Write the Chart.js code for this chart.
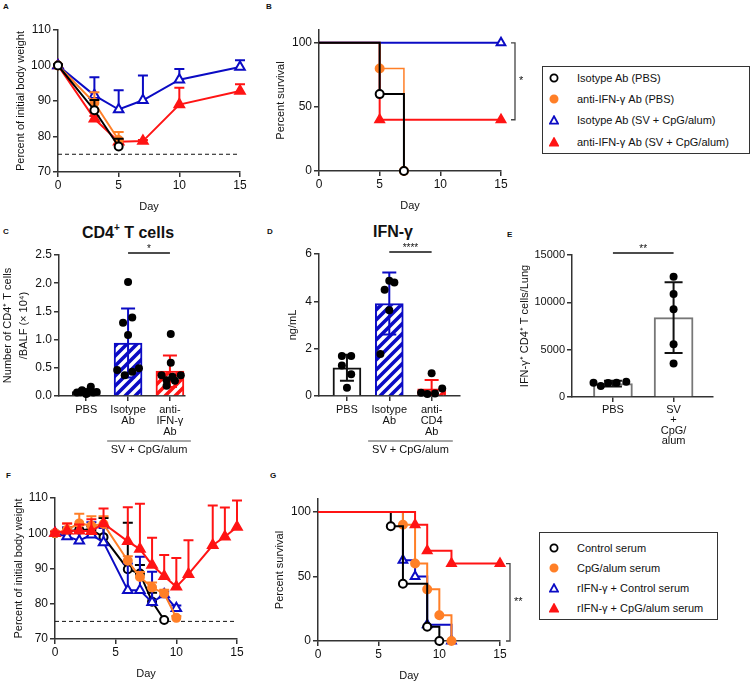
<!DOCTYPE html>
<html>
<head>
<meta charset="utf-8">
<script src="https://cdn.jsdelivr.net/npm/chart.js@4.4.1/dist/chart.umd.min.js"></script>
<style>
  body { margin: 0; background: #fff; }
  #fig { position: relative; width: 750px; height: 682px; overflow: hidden; background: #fff;
         font-family: "Liberation Sans", Arial, sans-serif; color: #111; }
  canvas { position: absolute; }
  .lt { position: absolute; font-weight: bold; font-size: 8px; line-height: 1; }
  .ttl { position: absolute; font-weight: bold; font-size: 16px; white-space: nowrap; transform: translate(-50%, -50%); }
  .ttl sup { font-size: 10px; }
  .leg { position: absolute; border: 1.3px solid #333; background: #fff; font-size: 11px; }
  .leg .row { position: absolute; white-space: nowrap; transform: translateY(-50%); line-height: 1; }
  .leg svg { display: block; }
</style>
</head>
<body>
<div id="fig">
  <div class="lt" style="left:3px;top:3px">A</div>
  <div class="lt" style="left:266px;top:3px">B</div>
  <div class="lt" style="left:3px;top:228px">C</div>
  <div class="lt" style="left:267px;top:228px">D</div>
  <div class="lt" style="left:507px;top:231px">E</div>
  <div class="lt" style="left:6px;top:472px">F</div>
  <div class="lt" style="left:270px;top:472px">G</div>
  <div class="ttl" style="left:128px;top:232px">CD4<sup>+</sup> T cells</div>
  <div class="ttl" style="left:393px;top:232px">IFN-γ</div>
  <div class="leg" id="legB" style="left:542px;top:66px;width:206px;height:86px"></div>
  <div class="leg" id="legG" style="left:539px;top:532px;width:177px;height:86px"></div>
  <canvas id="cA"></canvas>
  <canvas id="cB"></canvas>
  <canvas id="cC"></canvas>
  <canvas id="cD"></canvas>
  <canvas id="cE"></canvas>
  <canvas id="cF"></canvas>
  <canvas id="cG"></canvas>
</div>
<script>
// ---------- data ----------
// A: body weight after antibody treatment
const aDaysPBS = [0, 3, 5];
const aIsoPBS = [100, 87.4, 77.2];
const aIsoPBSsd = [0.3, 2.9, 2.2];
const aAntiPBS = [100, 89.5, 79.0];
const aAntiPBSsd = [0.3, 3.0, 2.3];
const aDaysSV = [0, 3, 5, 7, 10, 15];
const aIsoSV = [100, 91.6, 87.6, 90.2, 96.0, 99.6];
const aIsoSVsd = [0.3, 5.1, 5.4, 7.0, 3.0, 1.9];
const aAntiSV = [100, 85.0, 78.5, 78.7, 89.0, 92.8];
const aAntiSVsd = [0.3, 0.8, 0.6, 0.3, 4.7, 1.9];
const cutoffDays = [0, 15];
const cutoff = [75, 75];
const weightTicks = [70, 80, 90, 100, 110];
const dayTicks = [0, 5, 10, 15];

// B: survival
const bIsoPBSdays = [0, 5, 7];
const bIsoPBS = [100, 60, 0];
const bAntiPBSdays = [0, 5, 7];
const bAntiPBS = [100, 80, 0];
const bIsoSVdays = [0, 15];
const bIsoSV = [100, 100];
const bAntiSVdays = [0, 5, 15];
const bAntiSV = [100, 40, 40];
const survTicks = [0, 50, 100];

// C: CD4+ T cells in BALF (x 10^4)
const cCats = [['PBS'], ['Isotype', 'Ab'], ['anti-', 'IFN-γ', 'Ab']];
const cMeans = [0.077, 0.94, 0.44];
const cSD = [0.035, 0.61, 0.28];
const cDots = [
  [0.06, 0.065, 0.077, 0.047, 0.095, 0.06, 0.07, 0.165, 0.035, 0.10],
  [2.02, 1.30, 1.39, 1.08, 0.46, 0.37, 0.43, 0.49],
  [1.10, 0.59, 0.37, 0.28, 0.34, 0.37, 0.18, 0.27]
];
const cJitter = [
  [-0.22, -0.14, -0.06, 0.02, 0.08, 0.17, 0.25, 0.11, 0.0, -0.1],
  [0.0, -0.12, 0.10, 0.0, -0.26, -0.08, 0.10, 0.26],
  [0.02, 0.02, -0.2, -0.08, 0.06, 0.26, -0.08, 0.12]
];
const cTicks = [0, 0.5, 1.0, 1.5, 2.0, 2.5];

// D: IFN-gamma (ng/mL)
const dCats = [['PBS'], ['Isotype', 'Ab'], ['anti-', 'CD4', 'Ab']];
const dMeans = [1.19, 3.91, 0.30];
const dSD = [0.55, 1.31, 0.38];
const dDots = [
  [1.69, 1.69, 1.29, 0.92, 0.35],
  [4.87, 4.80, 4.49, 3.62, 1.77],
  [0.96, 0.14, 0.08, 0.11, 0.32]
];
const dJitter = [
  [-0.12, 0.10, -0.12, 0.10, 0.0],
  [0.0, 0.12, -0.11, 0.0, -0.21],
  [0.0, -0.25, -0.1, 0.08, 0.25]
];
const dTicks = [0, 2, 4, 6];

// E: IFN-gamma+ CD4+ T cells / lung
const eCats = [['PBS'], ['SV', '+', 'CpG/', 'alum']];
const eMeans = [1420, 8380];
const eSD = [300, 3740];
const eDots = [
  [1518, 1165, 1482, 1518, 1624],
  [12706, 10871, 9282, 5576, 3529]
];
const eJitter = [
  [-0.32, -0.2, -0.08, 0.06, 0.22],
  [0, 0, 0, 0, 0]
];
const eTicks = [0, 5000, 10000, 15000];

// F: body weight after serum transfer
const fDaysCtl = [0, 1, 2, 3, 4, 6, 7, 8, 9];
const fCtl = [100, 100.5, 101, 101, 98.9, 89.8, 88.6, 80.6, 75.4];
const fCtlSD = [0.3, 1.0, 1.5, 1.0, 5.4, 13.2, 2.4, 2.5, 0];
const fDaysCpG = [0, 1, 2, 3, 4, 6, 7, 8, 9, 10];
const fCpG = [100, 101, 102.8, 102.1, 102.6, 92.2, 87.6, 84.6, 82.9, 76.0];
const fCpGSD = [0.3, 1.8, 2.7, 2.7, 2.2, 1.3, 1.4, 1.4, 1.1, 0.5];
const fDaysIfnCtl = [0, 1, 2, 3, 4, 6, 7, 8, 9, 10];
const fIfnCtl = [100, 99.1, 97.9, 99.6, 97.4, 83.8, 83.8, 80.4, 82.6, 78.7];
const fIfnCtlSD = [0.3, 2.6, 2.6, 3.5, 4.1, 7.6, 9.5, 8.7, 0.9, 0.8];
const fDaysIfnCpG = [0, 1, 2, 3, 4, 6, 7, 8, 9, 10, 11, 13, 14, 15];
const fIfnCpG = [100, 100.7, 100.7, 100.6, 102.8, 97.7, 95.5, 91.0, 87.8, 84.8, 88.4, 96.6, 99.0, 101.8];
const fIfnCpGSD = [0.5, 2.1, 1.8, 3.4, 4.2, 9.7, 12.9, 7.7, 6.0, 8.2, 9.6, 11.3, 8.3, 7.5];

// G: survival after serum transfer
const gCtlDays = [0, 6, 7, 9, 10];
const gCtl = [100, 88.9, 44.4, 11.1, 0];
const gCpGDays = [0, 7, 8, 9, 10, 11];
const gCpG = [100, 90, 60, 40, 20, 0];
const gIfnCtlDays = [0, 7, 8, 9, 11];
const gIfnCtl = [100, 62.5, 50, 12.5, 0];
const gIfnCpGDays = [0, 8, 9, 11, 15];
const gIfnCpG = [100, 90, 70, 60, 60];

const legendB = ['Isotype Ab (PBS)', 'anti-IFN-γ Ab (PBS)', 'Isotype Ab (SV + CpG/alum)', 'anti-IFN-γ Ab (SV + CpG/alum)'];
const legendG = ['Control serum', 'CpG/alum serum', 'rIFN-γ + Control serum', 'rIFN-γ + CpG/alum serum'];

// ---------- style ----------
const BLACK = '#000000', ORANGE = '#ff7f27', BLUE = '#0b0bc4', RED = '#ff1414', AX = '#333333';
Chart.defaults.font.family = '"Liberation Sans", Arial, sans-serif';
Chart.defaults.font.size = 12;
Chart.defaults.color = '#111';
Chart.defaults.animation = false;
Chart.defaults.events = [];
Chart.defaults.plugins.legend.display = false;
Chart.defaults.plugins.tooltip.enabled = false;

const pts = (xs, ys) => xs.map((x, i) => ({x: x, y: ys[i]}));

function mount(id, area, lay) {
  const c = document.getElementById(id);
  c.width = area.r - area.l + lay.yW + lay.pr;
  c.height = area.b - area.t + lay.pt + lay.xH + (lay.pb || 0);
  c.style.left = (area.l - lay.yW) + 'px';
  c.style.top = (area.t - lay.pt) + 'px';
  return c;
}

function axis(o) {
  return {
    type: 'linear', min: o.min, max: o.max, offset: false,
    border: {display: true, color: AX, width: 1.5},
    grid: {display: true, drawOnChartArea: false, drawTicks: true, tickLength: 5, color: AX, lineWidth: 1.5, offset: false},
    ticks: {font: {size: o.fs || 12, lineHeight: o.lh || 1.2}, color: '#111', padding: o.pad || 2,
            maxRotation: 0, autoSkip: false, callback: o.fmt || (v => v)},
    title: {display: !!o.title, text: o.title, font: {size: 11, lineHeight: o.tlh || 1.2}, color: '#111', padding: 0},
    afterBuildTicks: s => { s.ticks = o.ticks.map(v => ({value: v})); },
    afterFit: s => { if (o.w) s.width = o.w; if (o.h) s.height = o.h; }
  };
}

function hatch(color) {
  const c = document.createElement('canvas');
  c.width = c.height = 10;
  const g = c.getContext('2d');
  g.fillStyle = '#fff';
  g.fillRect(0, 0, 10, 10);
  g.strokeStyle = color;
  g.lineWidth = 3.6;
  g.beginPath();
  g.moveTo(-2, 12); g.lineTo(12, -2);
  g.moveTo(-7, 7); g.lineTo(7, -7);
  g.moveTo(3, 17); g.lineTo(17, 3);
  g.stroke();
  return g.createPattern(c, 'repeat');
}

// error bars, significance marks and group labels
function drawErr(chart, i, when) {
  const ds = chart.data.datasets[i];
  if (!ds.err || ds.errWhen !== when) return;
  const meta = chart.getDatasetMeta(i), y = chart.scales.y, ctx = chart.ctx;
  ctx.save();
  ctx.lineWidth = ds.errWidth || 2;
  meta.data.forEach((el, k) => {
    const sd = ds.err[k];
    if (!sd) return;
    const v = ds.data[k].y;
    const col = Array.isArray(ds.errColor) ? ds.errColor[k] : ds.errColor;
    const top = y.getPixelForValue(v + sd);
    const low = Math.max(v - sd, y.min);
    const bot = ds.errBoth ? y.getPixelForValue(low) : el.y;
    const h = ds.capW / 2;
    ctx.strokeStyle = col;
    ctx.beginPath();
    ctx.moveTo(el.x, top); ctx.lineTo(el.x, bot);
    ctx.moveTo(el.x - h, top); ctx.lineTo(el.x + h, top);
    if (ds.errBoth && v - sd > y.min) { ctx.moveTo(el.x - h, bot); ctx.lineTo(el.x + h, bot); }
    ctx.stroke();
  });
  ctx.restore();
}

const extras = {
  id: 'extras',
  beforeDatasetDraw(chart, args) { drawErr(chart, args.index, 'before'); },
  afterDatasetDraw(chart, args) { drawErr(chart, args.index, 'after'); },
  afterDraw(chart, args, opts) {
    const ctx = chart.ctx, xs = chart.scales.x, ys = chart.scales.y, ca = chart.chartArea;
    ctx.save();
    ctx.fillStyle = '#111';
    ctx.textAlign = 'center';
    ctx.textBaseline = 'middle';
    if (opts.sig) {
      const s = opts.sig, yy = ca.top - 2;
      ctx.strokeStyle = '#111'; ctx.lineWidth = 1.3;
      ctx.beginPath();
      ctx.moveTo(xs.getPixelForValue(s.from), yy);
      ctx.lineTo(xs.getPixelForValue(s.to), yy);
      ctx.stroke();
      ctx.font = '10px "Liberation Sans", Arial, sans-serif';
      ctx.fillText(s.label, (xs.getPixelForValue(s.from) + xs.getPixelForValue(s.to)) / 2, yy - 4);
    }
    if (opts.bracket) {
      const b = opts.bracket, bx = ca.right + b.dx;
      const y1 = ys.getPixelForValue(b.from), y2 = ys.getPixelForValue(b.to);
      ctx.strokeStyle = '#444'; ctx.lineWidth = 1.3;
      ctx.beginPath();
      ctx.moveTo(bx - 4, y1); ctx.lineTo(bx, y1); ctx.lineTo(bx, y2); ctx.lineTo(bx - 4, y2);
      ctx.stroke();
      ctx.font = '11px "Liberation Sans", Arial, sans-serif';
      ctx.textAlign = 'left';
      ctx.fillText(b.label, bx + 4, (y1 + y2) / 2);
    }
    if (opts.group) {
      const g = opts.group, gy = ca.bottom + 45;
      ctx.strokeStyle = '#888'; ctx.lineWidth = 1.5;
      ctx.beginPath();
      ctx.moveTo(xs.getPixelForValue(g.from), gy);
      ctx.lineTo(xs.getPixelForValue(g.to), gy);
      ctx.stroke();
      ctx.font = '11px "Liberation Sans", Arial, sans-serif';
      ctx.textAlign = 'center';
      ctx.fillText(g.label, (xs.getPixelForValue(g.from) + xs.getPixelForValue(g.to)) / 2, gy + 9);
    }
    ctx.restore();
  }
};

function weightSeries(days, vals, sd, color, style, filled, r, order) {
  return {
    type: 'line', data: pts(days, vals), err: sd, errWhen: 'before', errColor: color, capW: 10, errWidth: 2,
    borderColor: color, borderWidth: 2, pointStyle: style, pointRadius: r,
    pointBackgroundColor: filled ? color : '#fff', pointBorderColor: color, pointBorderWidth: 2,
    clip: false, order: order
  };
}
function cutoffSeries() {
  return {type: 'line', data: pts(cutoffDays, cutoff), borderColor: '#111', borderWidth: 1,
          borderDash: [4, 3], pointRadius: 0, order: 9};
}
function survSeries(days, vals, color, style, filled, r, order, w) {
  return {
    type: 'line', data: pts(days, vals), stepped: 'before',
    borderColor: color, borderWidth: w || 2, pointStyle: style,
    pointRadius: ctx => ctx.dataIndex === 0 ? 0 : r,
    pointBackgroundColor: filled ? color : '#fff', pointBorderColor: color, pointBorderWidth: 2,
    clip: false, order: order
  };
}
function lineChart(id, area, lay, datasets, yo, xo, ex) {
  mount(id, area, lay);
  return new Chart(document.getElementById(id), {
    type: 'line',
    data: {datasets: datasets},
    options: {
      responsive: false, maintainAspectRatio: false,
      layout: {padding: {top: lay.pt, right: lay.pr, bottom: lay.pb || 0, left: 0}},
      scales: {x: axis(Object.assign({h: lay.xH}, xo)), y: axis(Object.assign({w: lay.yW}, yo))},
      plugins: {extras: ex || {}}
    },
    plugins: [extras]
  });
}
function barChart(id, area, lay, cats, means, sd, colors, fills, dots, jit, xo, yo, ex, barW, capW) {
  mount(id, area, lay);
  const dotPts = [];
  dots.forEach((g, gi) => g.forEach((v, k) => dotPts.push({x: gi + jit[gi][k], y: v})));
  return new Chart(document.getElementById(id), {
    type: 'bar',
    data: {datasets: [
      {type: 'bar', data: means.map((m, i) => ({x: i, y: m})), backgroundColor: fills, borderColor: colors,
       borderWidth: 2, barThickness: barW, err: sd, errWhen: 'after', errBoth: true, errColor: colors.map(c => c === '#777' ? '#111' : c),
       capW: capW, errWidth: 2, order: 2},
      {type: 'scatter', data: dotPts, pointRadius: 4, pointBackgroundColor: '#000', pointBorderWidth: 0, clip: false, order: 1}
    ]},
    options: {
      responsive: false, maintainAspectRatio: false,
      layout: {padding: {top: lay.pt, right: lay.pr, bottom: lay.pb || 0, left: 0}},
      scales: {
        x: axis(Object.assign({h: lay.xH, ticks: cats.map((c, i) => i), fmt: (v, i) => cats[i]}, xo)),
        y: axis(Object.assign({w: lay.yW}, yo))
      },
      plugins: {extras: ex || {}}
    },
    plugins: [extras]
  });
}

// ---------- A ----------
lineChart('cA', {l: 58, t: 30, r: 240, b: 172}, {yW: 44, xH: 42, pt: 12, pr: 12}, [
  weightSeries(aDaysPBS, aIsoPBS, aIsoPBSsd, BLACK, 'circle', false, 4, 0),
  weightSeries(aDaysPBS, aAntiPBS, aAntiPBSsd, ORANGE, 'circle', true, 4, 1),
  weightSeries(aDaysSV, aIsoSV, aIsoSVsd, BLUE, 'triangle', false, 5.5, 2),
  weightSeries(aDaysSV, aAntiSV, aAntiSVsd, RED, 'triangle', true, 5.5, 3),
  cutoffSeries()
], {min: 70, max: 110, ticks: weightTicks, title: 'Percent of initial body weight'},
   {min: 0, max: 15, ticks: dayTicks, title: 'Day', pad: 1});

// ---------- B ----------
lineChart('cB', {l: 319, t: 30, r: 501, b: 171}, {yW: 45, xH: 42, pt: 12, pr: 30}, [
  survSeries(bIsoPBSdays, bIsoPBS, BLACK, 'circle', false, 4, 0),
  survSeries(bAntiPBSdays, bAntiPBS, ORANGE, 'circle', true, 4, 1, 1.5),
  survSeries(bIsoSVdays, bIsoSV, BLUE, 'triangle', false, 5, 2),
  survSeries(bAntiSVdays, bAntiSV, RED, 'triangle', true, 5, 3)
], {min: 0, max: 110, ticks: survTicks, title: 'Percent survival'},
   {min: 0, max: 15, ticks: dayTicks, title: 'Day', pad: 1},
   {bracket: {dx: 14, from: 100, to: 40, label: '*'}});

// ---------- C ----------
barChart('cC', {l: 59, t: 255, r: 185, b: 396}, {yW: 59, xH: 50, pt: 14, pr: 12, pb: 16},
  cCats, cMeans, cSD, ['#111', BLUE, RED], ['#fff', hatch(BLUE), hatch(RED)], cDots, cJitter,
  {min: -0.65, max: 2.36, fs: 11, lh: 1.0, pad: 3.5},
  {min: 0, max: 2.5, ticks: cTicks, fmt: v => v.toFixed(1), title: ['Number of CD4⁺ T cells', '/BALF (× 10⁴)'], tlh: 1.45},
  {sig: {from: 1, to: 2, label: '*'}, group: {from: 0.5, to: 2.5, label: 'SV + CpG/alum'}}, 28, 14);

// ---------- D ----------
barChart('cD', {l: 319, t: 254, r: 460, b: 396}, {yW: 33, xH: 50, pt: 14, pr: 10, pb: 16},
  dCats, dMeans, dSD, ['#111', BLUE, RED], ['#fff', hatch(BLUE), hatch(RED)], dDots, dJitter,
  {min: -0.66, max: 2.67, fs: 11, lh: 1.0, pad: 3.5},
  {min: 0, max: 6, ticks: dTicks, title: 'ng/mL'},
  {sig: {from: 1, to: 2, label: '****'}, group: {from: 0.5, to: 2.5, label: 'SV + CpG/alum'}}, 28, 14);

// ---------- E ----------
barChart('cE', {l: 572, t: 255, r: 713, b: 397}, {yW: 54, xH: 52, pt: 14, pr: 10},
  eCats, eMeans, eSD, ['#777', '#777'], ['#fff', '#fff'], eDots, eJitter,
  {min: -0.675, max: 1.65, fs: 11, lh: 0.95, pad: 2.5},
  {min: 0, max: 15000, ticks: eTicks, fs: 11, fmt: v => String(v), title: 'IFN-γ⁺ CD4⁺ T cells/Lung'},
  {sig: {from: 0, to: 1, label: '**'}}, 39, 18);

// ---------- F ----------
lineChart('cF', {l: 55, t: 498, r: 237, b: 639}, {yW: 43, xH: 42, pt: 12, pr: 12}, [
  weightSeries(fDaysCtl, fCtl, fCtlSD, BLACK, 'circle', false, 4, 3),
  weightSeries(fDaysCpG, fCpG, fCpGSD, ORANGE, 'circle', true, 4, 1),
  weightSeries(fDaysIfnCtl, fIfnCtl, fIfnCtlSD, BLUE, 'triangle', false, 5.5, 2),
  weightSeries(fDaysIfnCpG, fIfnCpG, fIfnCpGSD, RED, 'triangle', true, 5.5, 0),
  cutoffSeries()
], {min: 70, max: 110, ticks: weightTicks, title: 'Percent of initial body weight'},
   {min: 0, max: 15, ticks: dayTicks, title: 'Day', pad: 1});

// ---------- G ----------
lineChart('cG', {l: 318, t: 499, r: 500, b: 641}, {yW: 45, xH: 42, pt: 12, pr: 30}, [
  survSeries(gCtlDays, gCtl, BLACK, 'circle', false, 4, 1),
  survSeries(gCpGDays, gCpG, ORANGE, 'circle', true, 4, 2),
  survSeries(gIfnCtlDays, gIfnCtl, BLUE, 'triangle', false, 5, 3),
  survSeries(gIfnCpGDays, gIfnCpG, RED, 'triangle', true, 5, 0)
], {min: 0, max: 110, ticks: survTicks, title: 'Percent survival'},
   {min: 0, max: 15, ticks: dayTicks, title: 'Day', pad: 1},
   {bracket: {dx: 10, from: 60, to: 0, label: '**'}});

// ---------- legends ----------
function marker(color, shape, filled) {
  const f = filled ? color : '#fff';
  const body = shape === 'circle'
    ? `<circle cx="5" cy="5" r="3.6" fill="${f}" stroke="${color}" stroke-width="1.8"/>`
    : `<polygon points="5,1.3 9,8.6 1,8.6" fill="${f}" stroke="${color}" stroke-width="1.8"/>`;
  return `<svg width="10" height="10" viewBox="0 0 10 10">${body}</svg>`;
}
function legend(id, labels, rows, mx, tx) {
  const styles = [[BLACK, 'circle', false], [ORANGE, 'circle', true], [BLUE, 'triangle', false], [RED, 'triangle', true]];
  document.getElementById(id).innerHTML = labels.map((t, i) =>
    `<div class="row" style="left:${mx - 5}px;top:${rows[i]}px">${marker(...styles[i])}</div>` +
    `<div class="row" style="left:${tx}px;top:${rows[i]}px">${t}</div>`).join('');
}
legend('legB', legendB, [11, 32, 53, 75], 11, 34);
legend('legG', legendG, [15, 35, 55, 75], 14, 37);
</script>
</body>
</html>
